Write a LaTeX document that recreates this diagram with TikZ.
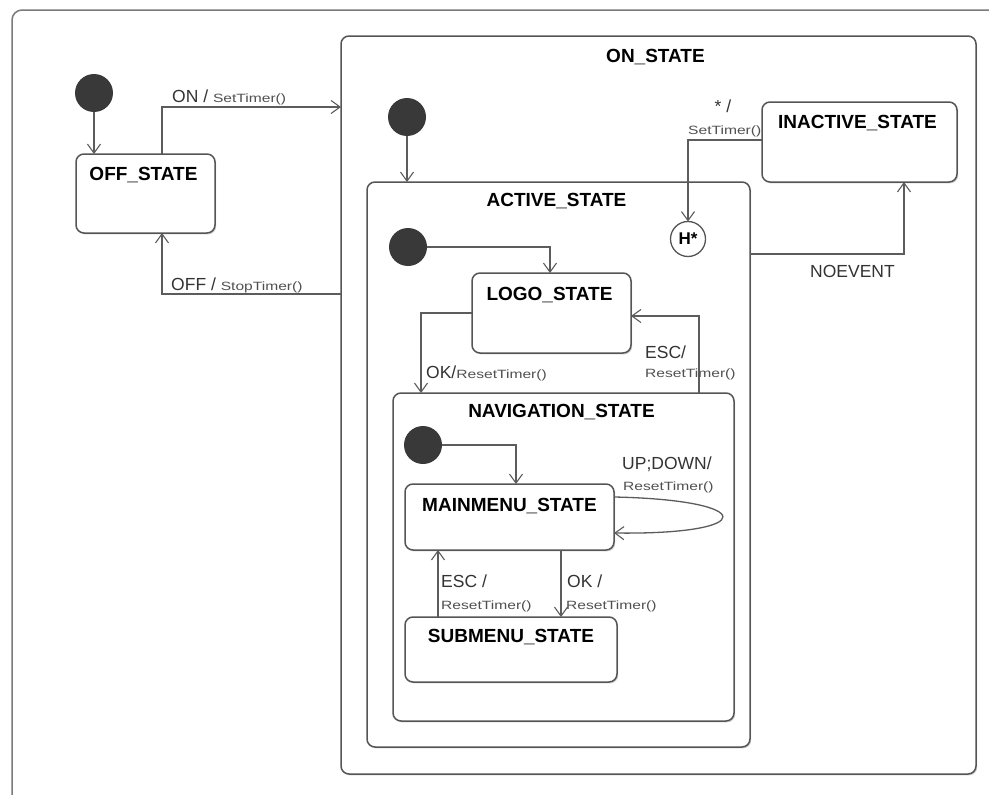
\documentclass[tikz,border=0pt]{standalone}
\usepackage{fontspec}
\setmainfont{Liberation Sans}
\newfontfamily\callfont[FakeStretch=1.3]{Liberation Sans}
\usetikzlibrary{arrows.meta,calc,shadows}
\definecolor{boxgray}{HTML}{555555}
\definecolor{linegray}{HTML}{5C5C5C}
\definecolor{framegray}{HTML}{7A7A7A}
\definecolor{dotgray}{HTML}{393939}
\definecolor{labgray}{HTML}{333333}
\definecolor{callgray}{HTML}{505050}
\newcommand{\call}[1]{{\callfont\fontsize{12}{14}\selectfont\color{callgray}#1}}
\begin{document}
\begin{tikzpicture}[x=1pt,y=-1pt,
  box/.style={draw=boxgray, line width=1.5pt, rounded corners=8pt, fill=white,
    inner sep=0pt, outer sep=0pt, anchor=north west,
    drop shadow={shadow xshift=1.2pt, shadow yshift=-1.4pt, opacity=0.35}},
  startdot/.style={circle, fill=dotgray, inner sep=0pt, outer sep=0pt, minimum size=38pt},
  histnode/.style={circle, draw=boxgray, line width=1.3pt, fill=white, inner sep=0pt,
    outer sep=0pt, minimum size=35pt, font=\bfseries\fontsize{17}{19}\selectfont},
  stname/.style={font=\bfseries\fontsize{19}{22}\selectfont, inner sep=0pt, anchor=base},
  lab/.style={font=\fontsize{17.5}{20}\selectfont, text=labgray, inner sep=0pt, anchor=base west},
  smalllab/.style={inner sep=0pt, anchor=base west},
  tr/.style={draw=linegray, line width=1.3pt,
    -{Straight Barb[length=9pt,width=13pt,line width=1.1pt]}}]
\useasboundingbox (0,0) rectangle (989,795);
\fill[white] (0,0) rectangle (989,795);

% enclosing frame, running off the right and bottom edges
\begin{scope}
  \clip (0,0) rectangle (989,795);
  \draw[framegray, line width=1.5pt, rounded corners=10pt] (12,805) -- (12,10) -- (1000,10);
\end{scope}

% states
\node[box, minimum width=139pt, minimum height=79pt] (off) at (76,154) {};
\node[box, minimum width=635pt, minimum height=738pt] (on) at (341,36) {};
\node[box, minimum width=383pt, minimum height=565pt] (active) at (367,182) {};
\node[box, minimum width=195pt, minimum height=80pt] (inactive) at (762,102) {};
\node[box, minimum width=159pt, minimum height=80pt] (logo) at (472,273) {};
\node[box, minimum width=341pt, minimum height=328pt] (nav) at (393,393) {};
\node[box, minimum width=209pt, minimum height=66pt] (main) at (405,484) {};
\node[box, minimum width=212pt, minimum height=65pt] (sub) at (405,617) {};

% state names
\node[stname] (offname) at ($(off.north)+(-2,26)$) {OFF\_STATE};
\node[stname] (onname) at ($(on.north)+(-3,26)$) {ON\_STATE};
\node[stname] (activename) at ($(active.north)+(-2,24)$) {ACTIVE\_STATE};
\node[stname] (inactivename) at ($(inactive.north)+(-2,26)$) {INACTIVE\_STATE};
\node[stname] (logoname) at ($(logo.north)+(-2,27)$) {LOGO\_STATE};
\node[stname] (navname) at ($(nav.north)+(-2,24)$) {NAVIGATION\_STATE};
\node[stname] (mainname) at ($(main.north)+(0,27)$) {MAINMENU\_STATE};
\node[stname] (subname) at ($(sub.north)+(0,25)$) {SUBMENU\_STATE};

% pseudo states
\node[startdot] (d1) at (94,93) {};
\node[startdot] (d2) at (407,117) {};
\node[startdot] (d3) at (408,247) {};
\node[startdot] (d4) at (423,445) {};
\node[histnode] (hist) at (688,239) {H*};

% transitions
\draw[tr] (d1) -- (off.north -| d1);
\draw[tr] ($(off.north west)+(86,0)$) |- ($(on.north west)+(0,71)$);
\draw[tr] ($(on.north west)+(0,258)$) -| ($(off.south west)+(86,0)$);
\draw[tr] (d2) -- (d2 |- active.north);
\draw[tr] ($(inactive.north west)+(0,38)$) -| (hist);
\draw[tr] ($(active.north east)+(0,72)$) -| ($(inactive.south west)+(142,0)$);
\draw[tr] (d3) -| ($(logo.north west)+(78,0)$);
\draw[tr] ($(logo.north west)+(0,40)$) -| ($(nav.north west)+(28,0)$);
\draw[tr] ($(nav.north west)+(306,0)$) |- ($(logo.north east)+(0,43)$);
\draw[tr] (d4) -| ($(main.north west)+(111,0)$);
\coordinate (loopout) at ($(main.north east)+(0,13)$);
\coordinate (loopc1) at ($(main.north east)+(145,16)$);
\coordinate (loopc2) at ($(main.north east)+(145,51)$);
\coordinate (loopin) at ($(main.north east)+(0,49)$);
\draw[tr] (loopout) .. controls (loopc1) and (loopc2) .. (loopin);
\draw[tr] ($(main.south west)+(156,0)$) -- ($(sub.north west)+(156,0)$);
\draw[tr] ($(sub.north west)+(33,0)$) -- ($(main.south west)+(33,0)$);

% transition labels
\node[lab] (onlab) at (172,102) {ON / \call{SetTimer()}};
\node[lab] (offlab) at (171,290) {OFF / \call{StopTimer()}};
\node[lab, anchor=base] (starlab) at (723,112) {* /};
\node[smalllab] (starcall) at (688,134) {\call{SetTimer()}};
\node[lab] (noevlab) at (810,277) {NOEVENT};
\node[lab] (oklab) at (426,378) {OK/\call{ResetTimer()}};
\node[lab] (esclab) at (645,358) {ESC/};
\node[smalllab] (esccall) at (645,377) {\call{ResetTimer()}};
\node[lab] (updownlab) at (622,469) {UP;DOWN/};
\node[smalllab] (updowncall) at (623,490) {\call{ResetTimer()}};
\node[lab] (esc2lab) at (441,587) {ESC /};
\node[smalllab] (esc2call) at (441,609) {\call{ResetTimer()}};
\node[lab] (ok2lab) at (567,587) {OK /};
\node[smalllab] (ok2call) at (566,609) {\call{ResetTimer()}};
\end{tikzpicture}
\end{document}
